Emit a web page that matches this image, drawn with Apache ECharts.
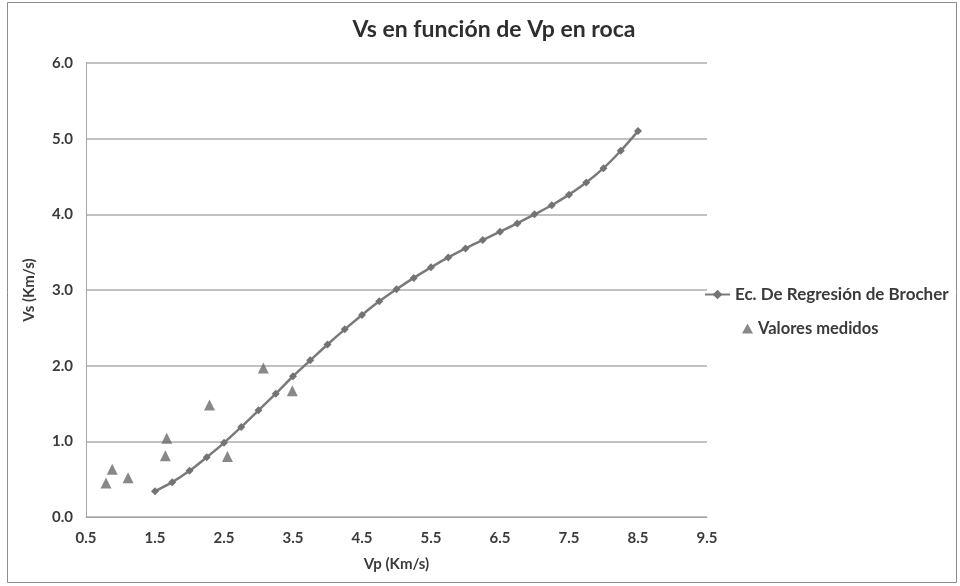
<!DOCTYPE html>
<html>
<head>
<meta charset="utf-8">
<script src="https://cdn.jsdelivr.net/npm/echarts@6/dist/echarts.min.js"></script>
<style>
html,body{margin:0;padding:0;background:#fff;}
#c{width:960px;height:586px;}
</style>
</head>
<body>
<div id="c"></div>
<script>
var titleText = "Vs en función de Vp en roca";
var xName = "Vp (Km/s)";
var yName = "Vs (Km/s)";
var lineName = "Ec. De Regresión de Brocher";
var scatterName = "Valores medidos";

var vpLine = [1.5,1.75,2.0,2.25,2.5,2.75,3.0,3.25,3.5,3.75,4.0,4.25,4.5,4.75,5.0,5.25,5.5,5.75,6.0,6.25,6.5,6.75,7.0,7.25,7.5,7.75,8.0,8.25,8.5];
var vsLine = [0.34,0.46,0.61,0.79,0.98,1.19,1.41,1.63,1.86,2.07,2.28,2.48,2.67,2.85,3.01,3.16,3.30,3.43,3.55,3.66,3.77,3.88,4.00,4.12,4.26,4.42,4.61,4.84,5.10];

var vpMeasured = [0.79,0.88,1.11,1.65,1.67,2.29,2.55,3.07,3.49];
var vsMeasured = [0.45,0.63,0.52,0.81,1.04,1.48,0.80,1.97,1.67];

var xMin = 0.5, xMax = 9.5, xStep = 1;
var yMin = 0, yMax = 6, yStep = 1;

var lineData = vpLine.map(function(v,i){return [v, vsLine[i]];});
var scatterData = vpMeasured.map(function(v,i){return [v, vsMeasured[i]];});

var chart = echarts.init(document.getElementById('c'));
var FONT = 'Lato';
var TXT = '#3a3a3a';
chart.setOption({
  backgroundColor: '#ffffff',
  animation: false,
  graphic: [{
    type: 'rect',
    shape: {x: 7.5, y: 2.5, width: 949, height: 580},
    style: {fill: 'none', stroke: '#8c8c8c', lineWidth: 1},
    silent: true, z: -1
  }],
  title: {
    text: titleText,
    left: 489, top: 13, textAlign: 'center',
    textStyle: {fontFamily: FONT, fontWeight: 'bold', fontSize: 23, color: '#2e2e2e'}
  },
  grid: {left: 86, top: 63, right: 253, bottom: 69, containLabel: false},
  legend: [{
    orient: 'vertical',
    left: 699, top: 281,
    itemWidth: 25, itemHeight: 12,
    textStyle: {fontFamily: FONT, fontWeight: 'bold', fontSize: 17, color: TXT},
    data: [lineName]
  }, {
    orient: 'vertical',
    left: 737, top: 315,
    itemWidth: 11, itemHeight: 10,
    textStyle: {fontFamily: FONT, fontWeight: 'bold', fontSize: 16.5, color: TXT},
    data: [{name: scatterName, icon: 'triangle'}]
  }],
  xAxis: {
    type: 'value', min: xMin, max: xMax, interval: xStep,
    name: xName, nameLocation: 'middle', nameGap: 40,
    nameTextStyle: {fontFamily: FONT, fontWeight: 'bold', fontSize: 15, color: TXT},
    axisLine: {show: true, lineStyle: {color: '#a6a6a6', width: 1}},
    axisTick: {show: false},
    splitLine: {show: false},
    axisLabel: {fontFamily: FONT, fontWeight: 'bold', fontSize: 15, color: TXT, margin: 14,
      formatter: function(v){return v.toFixed(1);}}
  },
  yAxis: {
    type: 'value', min: yMin, max: yMax, interval: yStep,
    name: yName, nameLocation: 'middle', nameGap: 49, nameRotate: 90,
    nameTextStyle: {fontFamily: FONT, fontWeight: 'bold', fontSize: 15, color: TXT},
    axisLine: {show: true, lineStyle: {color: '#a6a6a6', width: 1}},
    axisTick: {show: false},
    splitLine: {show: true, lineStyle: {color: '#adadad', width: 1.5}},
    axisLabel: {fontFamily: FONT, fontWeight: 'bold', fontSize: 15, color: TXT, margin: 13,
      formatter: function(v){return v.toFixed(1);}}
  },
  series: [
    {
      name: lineName, type: 'line', data: lineData, smooth: 0.3,
      symbol: 'diamond', symbolSize: 8, showSymbol: true,
      lineStyle: {color: '#7a7a7a', width: 2.5},
      itemStyle: {color: '#737373'}
    },
    {
      name: scatterName, type: 'scatter', data: scatterData,
      symbol: 'triangle', symbolSize: 11,
      itemStyle: {color: '#6a6a6a'}
    }
  ]
});
</script>
</body>
</html>
